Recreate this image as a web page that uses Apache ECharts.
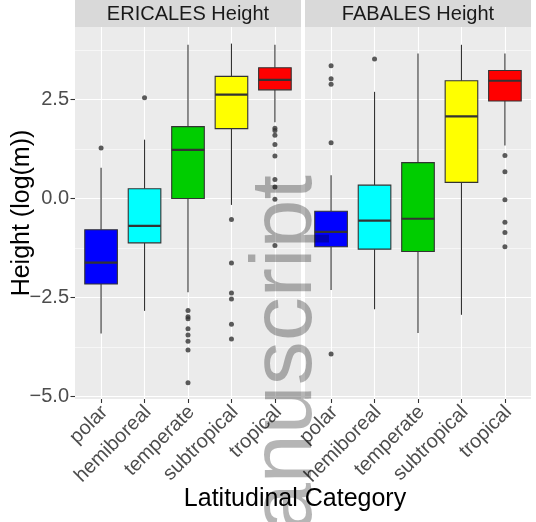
<!DOCTYPE html>
<html>
<head>
<meta charset="utf-8">
<script src="https://cdn.jsdelivr.net/npm/echarts@6/dist/echarts.min.js"></script>
<style>
  html, body { margin: 0; padding: 0; background: #ffffff; }
  #chart { width: 536px; height: 522px; }
</style>
</head>
<body>
<div id="chart"></div>
<script>
// Latitudinal categories shared by both facets
const categories = ['polar', 'hemiboreal', 'temperate', 'subtropical', 'tropical'];
const boxColors = ['#0000FF', '#00FFFF', '#00CD00', '#FFFF00', '#FF0000'];
const facetTitles = ['ERICALES Height', 'FABALES Height'];

// Box statistics per category: [lower whisker, Q1, median, Q3, upper whisker]
const ericalesBoxes = [
  [-3.41, -2.16, -1.62, -0.79, 0.78],
  [-2.84, -1.12, -0.69, 0.25, 1.49],
  [-2.37, 0.00, 1.23, 1.82, 3.89],
  [-0.16, 1.77, 2.63, 3.09, 3.92],
  [1.93, 2.75, 3.00, 3.31, 3.89]
];
const fabalesBoxes = [
  [-2.31, -1.22, -0.84, -0.32, 0.59],
  [-2.80, -1.28, -0.56, 0.34, 2.70],
  [-3.40, -1.34, -0.51, 0.91, 3.67],
  [-2.94, 0.41, 2.08, 2.98, 3.89],
  [1.34, 2.47, 2.98, 3.24, 3.67]
];

// Outlying observations per category
const ericalesOutliers = [
  [1.28],
  [2.55],
  [-2.83, -2.99, -3.04, -3.29, -3.45, -3.61, -3.83, -4.66],
  [-0.53, -1.63, -2.39, -2.54, -3.18, -3.55],
  [1.78, 1.72, 1.60, 1.37, 1.08, 0.48, 0.29, -0.02, -1.19]
];
const fabalesOutliers = [
  [3.36, 3.03, 2.89, 1.41, -3.93],
  [3.53],
  [],
  [],
  [1.09, 0.68, -0.03, -0.60, -0.86, -1.22]
];

// Y axis breaks
const yMajorTicks = [-5, -2.5, 0, 2.5];
const yMinorTicks = [-3.75, -1.25, 1.25, 3.75];
const yRange = [-5.07, 4.34];

// ---- layout ----
const FONT = '"Liberation Sans", Arial, Helvetica, sans-serif';
const panelTop = 27, panelHeight = 372, panelWidth = 226;
const panelLefts = [75, 305];
const stripHeight = 27;

function boxRows(stats) {
  return stats.map((s, i) => [i, s[0], s[1], s[2], s[3], s[4]]);
}
function outlierRows(outs) {
  const rows = [];
  outs.forEach((vals, i) => vals.forEach(v => rows.push([i, v])));
  return rows;
}

function renderBox(params, api) {
  const x = api.value(0);
  const w = api.size([0.75, 0])[0];
  const pLo = api.coord([x, api.value(1)]);
  const pQ1 = api.coord([x, api.value(2)]);
  const pMed = api.coord([x, api.value(3)]);
  const pQ3 = api.coord([x, api.value(4)]);
  const pHi = api.coord([x, api.value(5)]);
  const edge = '#333333';
  return {
    type: 'group',
    children: [
      { type: 'line', shape: { x1: pHi[0], y1: pHi[1], x2: pQ3[0], y2: pQ3[1] },
        style: { stroke: edge, lineWidth: 1.1 } },
      { type: 'line', shape: { x1: pQ1[0], y1: pQ1[1], x2: pLo[0], y2: pLo[1] },
        style: { stroke: edge, lineWidth: 1.1 } },
      { type: 'rect', shape: { x: pQ3[0] - w / 2, y: pQ3[1], width: w, height: pQ1[1] - pQ3[1] },
        style: { fill: boxColors[x], stroke: edge, lineWidth: 1.1 } },
      { type: 'line', shape: { x1: pMed[0] - w / 2, y1: pMed[1], x2: pMed[0] + w / 2, y2: pMed[1] },
        style: { stroke: edge, lineWidth: 2.2 } }
    ]
  };
}

const facets = [
  { boxes: ericalesBoxes, outliers: ericalesOutliers },
  { boxes: fabalesBoxes, outliers: fabalesOutliers }
];

const grids = [], xAxes = [], yAxes = [], series = [], graphics = [];

facets.forEach((f, k) => {
  grids.push({
    left: panelLefts[k], top: panelTop, width: panelWidth, height: panelHeight,
    show: true, backgroundColor: '#EBEBEB', borderWidth: 0
  });
  xAxes.push({
    gridIndex: k, type: 'value', min: -0.6, max: 4.6,
    axisLine: { show: false, onZero: false },
    axisTick: { show: true, length: 4, customValues: [0, 1, 2, 3, 4],
      lineStyle: { color: '#333333', width: 1.1 } },
    axisLabel: {
      customValues: [0, 1, 2, 3, 4], rotate: 45, margin: 6.5, interval: 0,
      align: 'right', verticalAlign: 'top', lineHeight: 10, hideOverlap: false,
      formatter: v => categories[Math.round(v)],
      fontSize: 20, color: '#4D4D4D', fontFamily: FONT
    },
    splitLine: { show: true, lineStyle: { color: '#FFFFFF', width: 1.1 } }
  });
  // major breaks
  yAxes.push({
    gridIndex: k, type: 'value', min: yRange[0], max: yRange[1], position: 'left',
    axisLine: { show: false, onZero: false },
    axisTick: { show: k === 0, length: 4.5, customValues: yMajorTicks,
      lineStyle: { color: '#333333', width: 1.1 } },
    axisLabel: {
      show: k === 0, customValues: yMajorTicks, margin: 6,
      formatter: v => v.toFixed(1).replace('-', '\u2212'),
      fontSize: 20, color: '#4D4D4D', fontFamily: FONT
    },
    splitLine: { show: true, lineStyle: { color: '#FFFFFF', width: 1.1 } }
  });
  // minor breaks
  yAxes.push({
    gridIndex: k, type: 'value', min: yRange[0], max: yRange[1], position: 'left',
    axisLine: { show: false, onZero: false },
    axisTick: { show: false, customValues: yMinorTicks },
    axisLabel: { show: false, customValues: yMinorTicks },
    splitLine: { show: true, lineStyle: { color: '#FFFFFF', width: 0.55 } }
  });

  series.push({
    type: 'custom', xAxisIndex: k, yAxisIndex: 2 * k,
    data: boxRows(f.boxes),
    encode: { x: 0, y: [1, 2, 3, 4, 5] },
    renderItem: renderBox, z: 2, silent: true
  });
  series.push({
    type: 'scatter', xAxisIndex: k, yAxisIndex: 2 * k,
    data: outlierRows(f.outliers),
    symbol: 'circle', symbolSize: 5,
    itemStyle: { color: '#333333' }, z: 3, silent: true
  });

  // facet strip
  graphics.push({
    type: 'rect', left: panelLefts[k], top: 0,
    shape: { width: panelWidth, height: stripHeight },
    style: { fill: '#D9D9D9' }, z: 1
  });
  graphics.push({
    type: 'text', x: panelLefts[k] + panelWidth / 2, y: stripHeight / 2 + 0.5,
    style: { text: facetTitles[k], fill: '#1A1A1A', font: '20px ' + FONT,
      align: 'center', verticalAlign: 'middle' }, z: 2
  });
});

// axis titles
graphics.push({
  type: 'text', x: 22, y: panelTop + panelHeight / 2, rotation: Math.PI / 2,
  style: { text: 'Height (log(m))', fill: '#000000', font: '25px ' + FONT,
    align: 'center', verticalAlign: 'middle' }, z: 2
});
graphics.push({
  type: 'text', x: 295, y: 499,
  style: { text: 'Latitudinal Category', fill: '#000000', font: '25px ' + FONT,
    align: 'center', verticalAlign: 'middle' }, z: 2
});
// overlaid watermark
graphics.push({
  type: 'text', x: 287, y: 175, rotation: Math.PI / 2,
  style: { text: 'Manuscript', fill: 'rgba(0,0,0,0.29)', font: '88px ' + FONT,
    align: 'right', verticalAlign: 'middle' }, z: 100, silent: true
});

const chart = echarts.init(document.getElementById('chart'), null, { renderer: 'canvas' });
chart.setOption({
  animation: false,
  backgroundColor: '#FFFFFF',
  grid: grids,
  xAxis: xAxes,
  yAxis: yAxes,
  series: series,
  graphic: graphics
});
</script>
</body>
</html>
